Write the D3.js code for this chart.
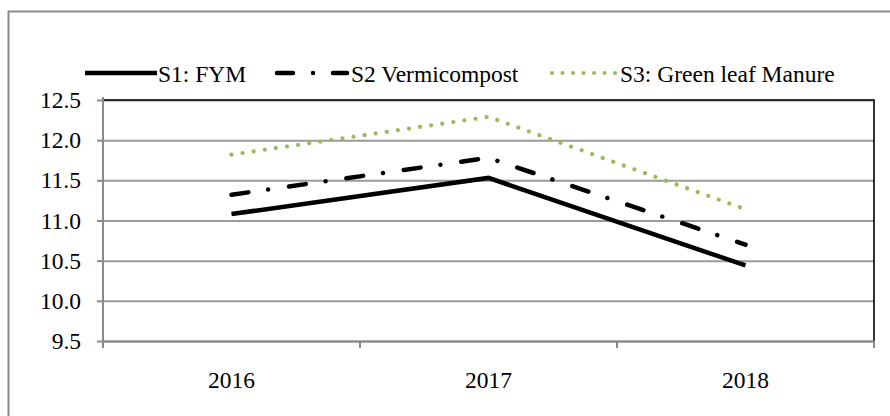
<!DOCTYPE html>
<html>
<head>
<meta charset="utf-8">
<script src="https://cdn.jsdelivr.net/npm/d3@7"></script>
<style>
  body { margin: 0; background: #fff; overflow: hidden; }
  svg { display: block; }
  svg text { font-family: "Liberation Serif", "Times New Roman", Tinos, "DejaVu Serif", serif; fill: #000; }
</style>
</head>
<body>
<div id="chart"></div>
<script>
/*
------------------------------
DATA
------------------------------
*/
let years = ["2016", "2017", "2018"];
let seriesNames = ["S1: FYM", "S2 Vermicompost", "S3: Green leaf Manure"];
let s1Values = [11.08, 11.53, 10.44];
let s2Values = [11.32, 11.78, 10.70];
let s3Values = [11.82, 12.29, 11.14];
let yTicks = [9.5, 10.0, 10.5, 11.0, 11.5, 12.0, 12.5];

/*
------------------------------
SIZE
------------------------------
*/
let width = 890;
let height = 416;
let plot = ({left: 103, right: 874, top: 100, bottom: 341});
let fontSize = "23.5px";

let svg = d3.select("#chart")
    .append("svg")
    .attr("width", width)
    .attr("height", height);

// outer chart frame: top edge and left edge, the rest is cut off
svg.append("line")
    .attr("x1", 8.5).attr("x2", width + 20)
    .attr("y1", 11.5).attr("y2", 11.5)
    .attr("stroke", "#8a8a8a")
    .attr("stroke-width", 2);
svg.append("line")
    .attr("x1", 8.5).attr("x2", 8.5)
    .attr("y1", 10.5).attr("y2", height + 20)
    .attr("stroke", "#8a8a8a")
    .attr("stroke-width", 2);

/*
------------------------------
SCALES
------------------------------
*/
let xBand = d3.scaleBand()
    .domain(years)
    .range([plot.left, plot.right]);

let xPoint = d3.scalePoint()
    .domain(years)
    .range([plot.left, plot.right])
    .padding(0.5);

let yScale = d3.scaleLinear()
    .domain([9.5, 12.5])
    .range([plot.bottom, plot.top]);

// gridlines
svg.append("g")
    .attr("class", "grid")
    .attr("transform", "translate(" + plot.left + ",0)")
    .call(d3.axisLeft(yScale).tickValues(yTicks).tickSize(-(plot.right - plot.left)).tickFormat(""))
    .call(g => g.select(".domain").remove())
    .call(g => g.selectAll("line").attr("stroke", "#9a9a9a").attr("stroke-width", 2));

// black plot border on top and right
svg.append("path")
    .attr("d", "M" + plot.left + "," + plot.top + "H" + plot.right + "V" + plot.bottom)
    .attr("fill", "none")
    .attr("stroke", "#000")
    .attr("stroke-width", 1.6);

// y axis
svg.append("g")
    .attr("class", "y axis")
    .attr("transform", "translate(" + plot.left + ",0)")
    .call(d3.axisLeft(yScale).tickValues(yTicks).tickFormat(d3.format(".1f")).tickSize(6).tickPadding(16))
    .call(g => g.attr("font-family", null))
    .call(g => g.select(".domain").attr("d", "M0," + (plot.top - 3) + "V" + (plot.bottom + 6)))
    .call(g => g.selectAll("path, line").attr("stroke", "#8a8a8a").attr("stroke-width", 2))
    .call(g => g.selectAll("text").attr("font-size", fontSize));

// x axis: labels at category centres, ticks between categories
let xAxisG = svg.append("g")
    .attr("class", "x axis")
    .attr("transform", "translate(0," + plot.bottom + ")")
    .call(d3.axisBottom(xBand).tickSize(0).tickPadding(30).tickSizeOuter(0))
    .call(g => g.attr("font-family", null))
    .call(g => g.select(".domain").attr("stroke", "#8a8a8a").attr("stroke-width", 2))
    .call(g => g.selectAll("text").attr("font-size", fontSize));

let boundaries = years.map(d => xBand(d)).concat([xBand(years[years.length - 1]) + xBand.bandwidth()]);
xAxisG.selectAll(".sep")
    .data(boundaries)
    .enter()
    .append("line")
    .attr("class", "sep")
    .attr("x1", d => d).attr("x2", d => d)
    .attr("y1", 0).attr("y2", 7)
    .attr("stroke", "#8a8a8a")
    .attr("stroke-width", 2);

/*
------------------------------
LINES
------------------------------
*/
let styles = [
    {color: "#000", dash: null, cap: "butt", join: "miter"},
    {color: "#000", dash: "17,20,0.01,21", cap: "round", join: "round"},
    {color: "#9bbb59", dash: "0.01,11.2", cap: "round", join: "round"}
];
let allSeries = [s1Values, s2Values, s3Values];

let line = d3.line()
    .x((d, i) => xPoint(years[i]))
    .y(d => yScale(d));

svg.selectAll(".series")
    .data(allSeries)
    .enter()
    .append("path")
    .attr("class", "series")
    .attr("d", d => line(d))
    .attr("fill", "none")
    .attr("stroke", (d, i) => styles[i].color)
    .attr("stroke-width", (d, i) => i == 2 ? 4.2 : 4.5)
    .attr("stroke-dasharray", (d, i) => styles[i].dash)
    .attr("stroke-linecap", (d, i) => styles[i].cap)
    .attr("stroke-linejoin", (d, i) => styles[i].join);

/*
------------------------------
LEGEND
------------------------------
*/
let legendX = [85, 277, 552];
let legendLen = [72, 70, 64];
let legendY = 73;

let legend = svg.selectAll(".legend")
    .data(seriesNames)
    .enter()
    .append("g")
    .attr("class", "legend")
    .attr("transform", (d, i) => "translate(" + legendX[i] + "," + legendY + ")");

legend.append("line")
    .attr("x1", 0)
    .attr("x2", (d, i) => legendLen[i])
    .attr("stroke", (d, i) => styles[i].color)
    .attr("stroke-width", (d, i) => i == 2 ? 4.2 : 4.5)
    .attr("stroke-dasharray", (d, i) => i == 1 ? "16,20,0.01,20" : (i == 2 ? "0.01,10.5" : null))
    .attr("stroke-linecap", (d, i) => styles[i].cap);

legend.append("text")
    .attr("x", (d, i) => legendLen[i] + (i == 0 ? 1 : 4))
    .attr("y", 9)
    .attr("font-size", fontSize)
    .text(d => d);
</script>
</body>
</html>
